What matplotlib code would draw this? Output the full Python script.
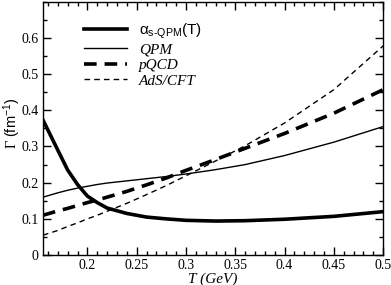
import numpy as np
import matplotlib.pyplot as plt
from matplotlib.ticker import MultipleLocator

# temperaturas (GeV)
T = [0.155, 0.17, 0.18, 0.19, 0.2, 0.21, 0.22, 0.24, 0.26, 0.28, 0.3, 0.33, 0.36, 0.4, 0.45, 0.5]

# tasas Gamma (fm^-1)
g_alpha = [0.373, 0.29, 0.235, 0.195, 0.163, 0.145, 0.13, 0.115, 0.105, 0.1, 0.096, 0.094, 0.095, 0.099, 0.107, 0.12]
g_qpm = [0.16, 0.172, 0.179, 0.185, 0.19, 0.195, 0.199, 0.205, 0.211, 0.217, 0.224, 0.236, 0.25, 0.275, 0.312, 0.355]
g_pqcd = [0.11, 0.122, 0.129, 0.137, 0.145, 0.152, 0.16, 0.176, 0.194, 0.213, 0.234, 0.264, 0.295, 0.336, 0.392, 0.457]
g_ads = [0.055, 0.068, 0.079, 0.089, 0.1, 0.11, 0.121, 0.143, 0.167, 0.192, 0.219, 0.26, 0.302, 0.365, 0.457, 0.578]

plt.rcParams['font.family'] = ['Liberation Serif', 'DejaVu Serif']
plt.rcParams['mathtext.fontset'] = 'custom'
plt.rcParams['mathtext.rm'] = 'Liberation Sans'
plt.rcParams['mathtext.it'] = 'Liberation Sans:italic'

fig = plt.figure(figsize=(3.91, 2.85), dpi=100)
ax = fig.add_axes([0.110, 0.105, 0.870, 0.889])

ax.plot(T, g_alpha, color='black', lw=2.6, label=r'$\mathrm{α_{s\text{-}QPM}(T)}$')
ax.plot(T, g_qpm, color='black', lw=1.0, label='QPM')
ax.plot(T, g_pqcd, color='black', lw=2.6, ls=(0, (3.5, 2.2)), label='pQCD')
ax.plot(T, g_ads, color='black', lw=1.0, ls=(0, (4, 3)), label='AdS/CFT')

ax.set_xlim(0.155, 0.5)
ax.set_ylim(0, 0.7)
ax.xaxis.set_minor_locator(MultipleLocator(0.01))
ax.yaxis.set_minor_locator(MultipleLocator(0.05))
ax.set_xticks([0.2, 0.25, 0.3, 0.35, 0.4, 0.45, 0.5])
ax.set_xticklabels(['0.2', '0.25', '0.3', '0.35', '0.4', '0.45', '0.5'])
ax.set_yticks([0, 0.1, 0.2, 0.3, 0.4, 0.5, 0.6])
ax.set_yticklabels(['0', '0.1', '0.2', '0.3', '0.4', '0.5', '0.6'])
ax.tick_params(which='both', direction='in', top=True, right=True, labelsize=10, pad=3)
ax.tick_params(which='major', length=6, width=1)
ax.tick_params(which='minor', length=3, width=1)
for s in ax.spines.values():
    s.set_linewidth(1.0)

ax.set_xlabel('T (GeV)', fontstyle='italic', fontsize=11, labelpad=0)
ax.set_ylabel(r'Γ $\mathrm{(fm^{-1})}$', fontsize=10.5)
ax.yaxis.set_label_coords(-0.058, 0.52)

leg = ax.legend(loc='upper left', bbox_to_anchor=(0.08, 0.975), frameon=False,
                handlelength=2.8, handletextpad=0.8, labelspacing=0.12, fontsize=11)
for t in leg.get_texts()[1:]:
    t.set_fontstyle('italic')

fig.savefig('out.png', dpi=100)
